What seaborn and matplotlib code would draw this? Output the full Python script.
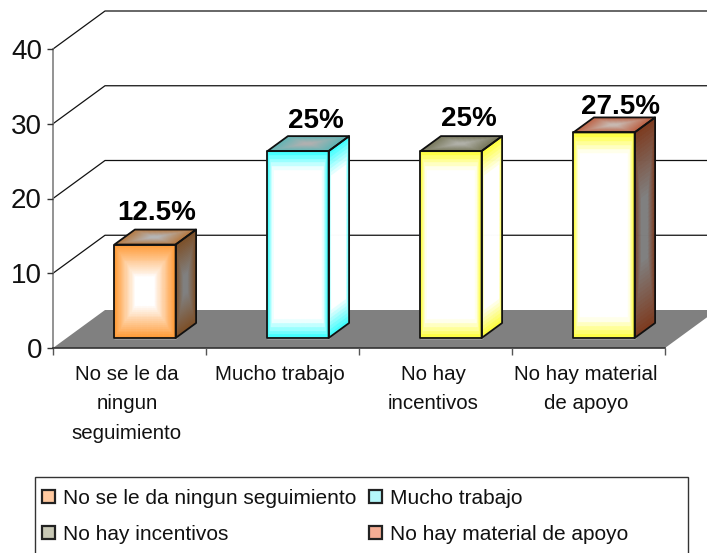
import numpy as np
import matplotlib
matplotlib.use("Agg")
import matplotlib.pyplot as plt
import seaborn as sns
from matplotlib.collections import PolyCollection
from matplotlib.colors import to_rgb
from matplotlib.lines import Line2D
from matplotlib.patches import Patch, Polygon, Rectangle
from matplotlib.transforms import Affine2D, IdentityTransform

categorias = ["No se le da ningun seguimiento", "Mucho trabajo",
              "No hay incentivos", "No hay material de apoyo"]
etiquetas_x = ["No se le da\nningun\nseguimiento", "Mucho trabajo",
               "No hay\nincentivos", "No hay material\nde apoyo"]
valores = [12.5, 25, 25, 27.5]
etiquetas = ["12.5%", "25%", "25%", "27.5%"]
ticks_y = [0, 10, 20, 30, 40]

colores = ["#FF9933", "#33FFFF", "#FFFF33", "#FFFF33"]
centro_frente = ["#FFFFFF", "#FFFFFF", "#FFFFFF", "#FFFFFF"]
lado_borde = ["#7D4F26", "#33FFFF", "#FFFF33", "#7D3A1E"]
lado_centro = ["#808080", "#FFFFFF", "#FFFFFF", "#808080"]
tope_borde = ["#B5783F", "#5FB5B5", "#77775A", "#BC6244"]
tope_centro = ["#B5B5B5", "#B0B0B0", "#B0B0A8", "#C8B8B0"]
inner_frente = [0.3, 0.8, 0.8, 0.8]
inner_lado = [0.2, 0.7, 0.7, 0.3]
leyenda_color = ["#FFC9A0", "#B5F8FA", "#C8C8B5", "#F5AE95"]

W, H = 707, 553
sns.set_theme(style="white")
plt.rcParams["font.family"] = ["Liberation Sans", "DejaVu Sans"]

# profundidad en pixeles del "3D" falso
WALL_DX, WALL_DY = 52, 38
BAR_SHIFT_X, BAR_SHIFT_Y = 15.5, 10
BAR_DX, BAR_DY = 20.5, 15

fig = plt.figure(figsize=(W / 100, H / 100), dpi=100)
ax = fig.add_axes([53 / W, (H - 348) / H, 612 / W, 299 / H])

sns.barplot(x=categorias, y=valores, hue=categorias, palette=colores,
            order=categorias, hue_order=categorias, dodge=False, width=0.4,
            saturation=1, legend=False, ax=ax)
ax.set_xlim(-0.5, 3.5)
ax.set_ylim(0, 40)


def shade(corner, du, dv, edge, mid, inner, z=3, n=50):
    """Paralelogramo con degradado tipo caja, en pixeles de pantalla."""
    cells = []
    cols = []
    mid = np.array(to_rgb(mid))
    edge = np.array(to_rgb(edge))
    for a in range(n):
        for b in range(n):
            u0, u1, v0, v1 = a / n, (a + 1) / n, b / n, (b + 1) / n
            quad = [(corner[0] + p * du[0] + q * dv[0], corner[1] + p * du[1] + q * dv[1])
                    for p, q in [(u0, v0), (u1, v0), (u1, v1), (u0, v1)]]
            t = max(abs(u0 + u1 - 1), abs(v0 + v1 - 1))
            t = min(max((t - inner) / (1 - inner), 0), 1)
            cells.append(quad)
            cols.append(mid * (1 - t) + edge * t)
    coll = PolyCollection(cells, facecolors=cols, edgecolors=cols, linewidths=0.3,
                          transform=IdentityTransform(), zorder=z, clip_on=False)
    ax.add_collection(coll, autolim=False)


def outline(pts, z=4):
    ax.add_patch(Polygon(pts, closed=True, fill=False, edgecolor="#111111", lw=1.3,
                         joinstyle="round", transform=IdentityTransform(),
                         zorder=z, clip_on=False))


to_px = ax.transData.transform
x0, y0 = to_px((-0.5, 0))
x1, _ = to_px((3.5, 0))

# piso
ax.add_patch(Polygon([(x0, y0), (x0 + WALL_DX, y0 + WALL_DY),
                      (x1 + WALL_DX, y0 + WALL_DY), (x1, y0)],
                     closed=True, facecolor="#808080", edgecolor="none",
                     transform=IdentityTransform(), zorder=0.5, clip_on=False))

# rejilla en la pared lateral y la del fondo
for t in ticks_y[1:]:
    _, yt = to_px((0, t))
    ax.add_line(Line2D([x0, x0 + WALL_DX, x1 + WALL_DX], [yt, yt + WALL_DY, yt + WALL_DY],
                       color="#111111", lw=0.9, transform=IdentityTransform(),
                       zorder=0.4, clip_on=False))

# barras: cara frontal, lateral y superior
for i, bar in enumerate(ax.patches[:4]):
    (bx0, by0), (bx1, by1) = to_px(bar.get_bbox().get_points())
    bx0 += BAR_SHIFT_X
    bx1 += BAR_SHIFT_X
    by0 += BAR_SHIFT_Y
    by1 += BAR_SHIFT_Y
    bar.set_transform(ax.transData + Affine2D().translate(BAR_SHIFT_X, BAR_SHIFT_Y))
    bar.set_clip_on(False)
    bar.set_zorder(2)
    w = bx1 - bx0
    h = by1 - by0
    shade((bx0, by0), (w, 0), (0, h), colores[i], centro_frente[i], inner_frente[i])
    shade((bx1, by0), (BAR_DX, BAR_DY), (0, h), lado_borde[i], lado_centro[i], inner_lado[i])
    shade((bx0, by1), (w, 0), (BAR_DX, BAR_DY), tope_borde[i], tope_centro[i], 0.15)
    outline([(bx0, by0), (bx1, by0), (bx1, by1), (bx0, by1)])
    outline([(bx1, by0), (bx1 + BAR_DX, by0 + BAR_DY), (bx1 + BAR_DX, by1 + BAR_DY), (bx1, by1)])
    outline([(bx0, by1), (bx1, by1), (bx1 + BAR_DX, by1 + BAR_DY), (bx0 + BAR_DX, by1 + BAR_DY)])

# etiquetas de datos, debajo de las barras como en el original
nudge = [(27, 42), (33, 40), (33, 42), (32, 35)]
for i, txt in enumerate(etiquetas):
    ax.annotate(txt, xy=(i, valores[i]), xytext=(nudge[i][0] * 0.72, nudge[i][1] * 0.72),
                textcoords="offset points", ha="center", va="center",
                fontsize=20, fontweight="bold", color="black", zorder=1.5,
                annotation_clip=False)

# ejes
for s in ["top", "right"]:
    ax.spines[s].set_visible(False)
ax.spines["left"].set_color("#808080")
ax.spines["left"].set_linewidth(1.2)
ax.spines["bottom"].set_color("#333333")
ax.spines["bottom"].set_linewidth(1.2)
ax.set_yticks(ticks_y)
ax.set_yticklabels([str(t) for t in ticks_y], fontsize=20, color="#111111")
ax.tick_params(axis="y", length=4, width=1, color="#333333", pad=4, left=True)
ax.set_xticks(np.arange(-0.5, 4, 1))
ax.set_xticklabels([])
ax.tick_params(axis="x", which="major", length=5, width=1, color="#555555", bottom=True)
ax.set_xticks(range(4), minor=True)
ax.set_xticklabels(etiquetas_x, minor=True, fontsize=14.8, linespacing=1.72, color="#111111")
ax.tick_params(axis="x", which="minor", length=0, pad=12)
for lab in ax.get_xticklabels(minor=True):
    lab.set_transform(lab.get_transform() + Affine2D().translate(-2.5, 0))
ax.set_axisbelow(False)

# la leyenda llena por filas; el marco sale por abajo de la figura
orden_leyenda = [0, 2, 1, 3]
handles = [Patch(facecolor=leyenda_color[k], edgecolor="#222222", lw=1.6) for k in orden_leyenda]
fig.add_artist(Rectangle((35 / W, (H - 577) / H), 653 / W, 100 / H, fill=False,
                         edgecolor="#333333", lw=1, transform=fig.transFigure))
fig.legend(handles, [categorias[k] for k in orden_leyenda], ncol=2, loc="upper left",
           bbox_to_anchor=(42 / W, (H - 489) / H), bbox_transform=fig.transFigure,
           borderaxespad=0, borderpad=0, fontsize=15, frameon=False,
           handlelength=0.62, handleheight=0.62, handletextpad=0.38,
           labelspacing=0.8, columnspacing=0.6, labelcolor="#111111")

fig.savefig("out.png", dpi=100)
